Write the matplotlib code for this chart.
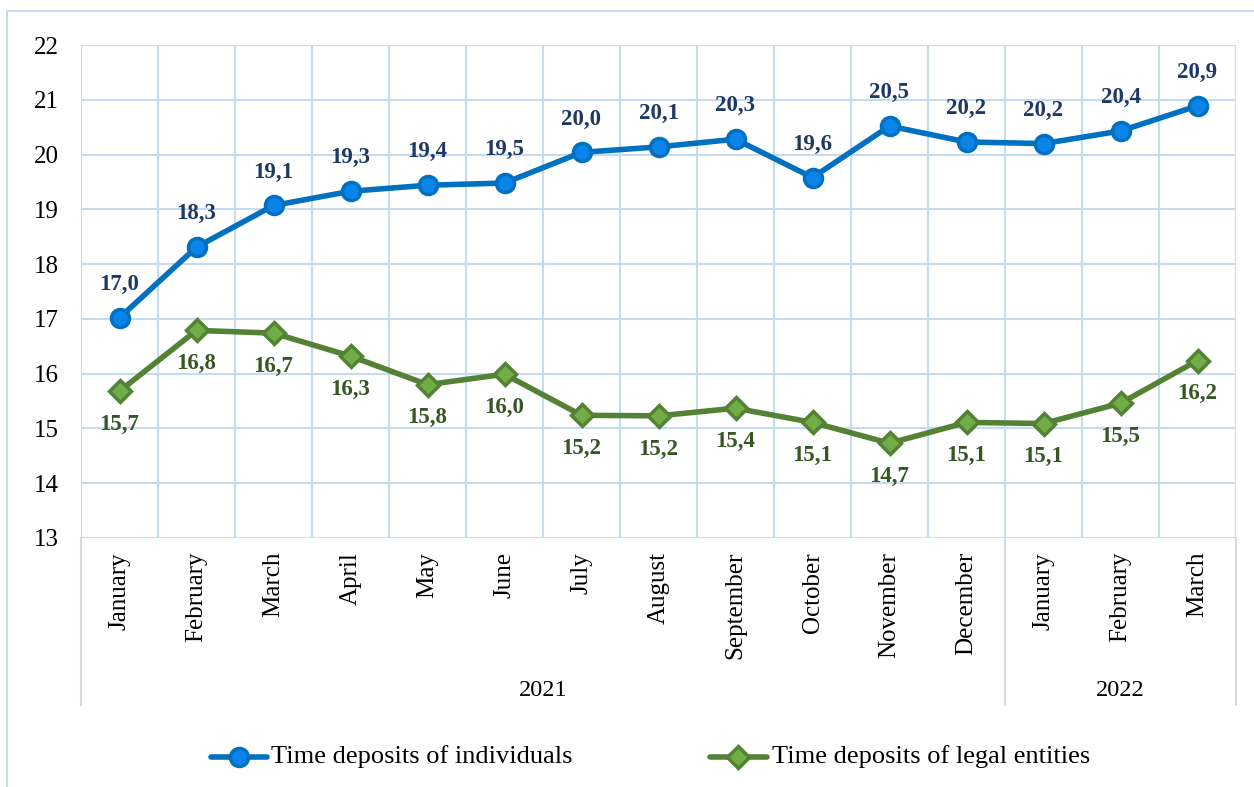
import matplotlib
matplotlib.use("Agg")
import matplotlib.pyplot as plt
from matplotlib.lines import Line2D
from matplotlib.patches import Rectangle
import matplotlib.transforms as mtransforms

months = ["January", "February", "March", "April", "May", "June", "July",
          "August", "September", "October", "November", "December",
          "January", "February", "March"]
years = ["2021", "2022"]
year_counts = [12, 3]

individuals = [17.02, 18.31, 19.07, 19.33, 19.44, 19.48, 20.04, 20.14, 20.28,
               19.58, 20.52, 20.23, 20.20, 20.43, 20.89]
individuals_labels = ["17,0", "18,3", "19,1", "19,3", "19,4", "19,5", "20,0",
                      "20,1", "20,3", "19,6", "20,5", "20,2", "20,2", "20,4", "20,9"]
legal = [15.68, 16.79, 16.74, 16.32, 15.80, 15.99, 15.24, 15.23, 15.37,
         15.11, 14.73, 15.11, 15.09, 15.46, 16.24]
legal_labels = ["15,7", "16,8", "16,7", "16,3", "15,8", "16,0", "15,2", "15,2",
                "15,4", "15,1", "14,7", "15,1", "15,1", "15,5", "16,2"]

series_names = ["Time deposits of individuals", "Time deposits of legal entities"]

plt.rcParams['font.family'] = ['Liberation Serif', 'DejaVu Serif']

W, H = 1254, 787
fig = plt.figure(figsize=(W / 100, H / 100), dpi=100)

# outer border
fig.patches.append(Rectangle((7 / W, -0.1), 1.2, 1 - 11 / H + 0.1,
                             transform=fig.transFigure, fill=False,
                             edgecolor="#C5DCF0", linewidth=1.5))

ax_l, ax_r, ax_t, ax_b = 81, 1236, 45, 538
ax = fig.add_axes([ax_l / W, 1 - ax_b / H, (ax_r - ax_l) / W, (ax_b - ax_t) / H])

n = len(months)
x = [i + 0.5 for i in range(n)]
ax.set_xlim(0, n)
ax.set_ylim(13, 22)

grid_c = "#C5DCF0"
for yv in range(13, 23):
    ax.axhline(yv, color=grid_c, linewidth=1.5, zorder=0)
for xv in range(0, n + 1):
    ax.axvline(xv, color=grid_c, linewidth=1.5, zorder=0)

for s in ax.spines.values():
    s.set_visible(False)
ax.axhline(13, color="#D9D9D9", linewidth=1.5, zorder=1)

blue_line = "#0070C0"
blue_fill = "#0A84E8"
green_line = "#548235"
green_fill = "#70AD47"

blue_style = dict(color=blue_line, linewidth=4, marker="o", markersize=13,
                  markerfacecolor=blue_fill, markeredgecolor=blue_line,
                  markeredgewidth=2.5)
green_style = dict(color=green_line, linewidth=4, marker="D", markersize=11,
                   markerfacecolor=green_fill, markeredgecolor=green_line,
                   markeredgewidth=2.5)

ax.plot(x, individuals, zorder=3, clip_on=False, **blue_style)
ax.plot(x, legal, zorder=3, clip_on=False, **green_style)

for xi, v, lab in zip(x, individuals, individuals_labels):
    ax.annotate(lab, (xi, v), xytext=(0, 24), textcoords="offset points",
                ha="center", va="center", fontsize=16.5, fontweight="bold",
                color="#1F3864")
for xi, v, lab in zip(x, legal, legal_labels):
    ax.annotate(lab, (xi, v), xytext=(0, -24), textcoords="offset points",
                ha="center", va="center", fontsize=16.5, fontweight="bold",
                color="#375623")

ax.set_yticks(range(13, 23))
ax.set_yticklabels([str(v) for v in range(13, 23)], fontsize=18)
ax.set_xticks(x)
ax.set_xticklabels(months, rotation=90, fontsize=18)
ax.tick_params(axis="both", length=0)
ax.tick_params(axis="y", pad=16)
ax.tick_params(axis="x", pad=10)

# group separators and year labels
trans = mtransforms.blended_transform_factory(ax.transData, ax.transAxes)
sep_bottom = (ax_b - 705) / (ax_b - ax_t)
year_y = (ax_b - 690) / (ax_b - ax_t)
bounds = [0]
for c in year_counts:
    bounds.append(bounds[-1] + c)
for b in bounds:
    ax.plot([b, b], [0, sep_bottom], transform=trans, color="#D9D9D9",
            linewidth=1.5, clip_on=False)
for i, yr in enumerate(years):
    ax.text((bounds[i] + bounds[i + 1]) / 2, year_y, yr, transform=trans,
            ha="center", va="center", fontsize=17.5)

# legend drawn manually
leg_y = 1 - 757 / H
entries = [(211, 267, 239, blue_style, 271), (710, 767, 738, green_style, 772)]
for (x0, x1, xm, style, xt), name in zip(entries, series_names):
    st = dict(style)
    marker = st.pop("marker")
    ms = st.pop("markersize")
    mfc = st.pop("markerfacecolor")
    mec = st.pop("markeredgecolor")
    mew = st.pop("markeredgewidth")
    fig.add_artist(Line2D([x0 / W, x1 / W], [leg_y, leg_y], transform=fig.transFigure,
                          solid_capstyle="round", **st))
    fig.add_artist(Line2D([xm / W], [leg_y], transform=fig.transFigure, linestyle="none",
                          marker=marker, markersize=ms, markerfacecolor=mfc,
                          markeredgecolor=mec, markeredgewidth=mew))
    fig.text(xt / W, leg_y, name, ha="left", va="center", fontsize=19)

fig.savefig("out.png", dpi=100)
